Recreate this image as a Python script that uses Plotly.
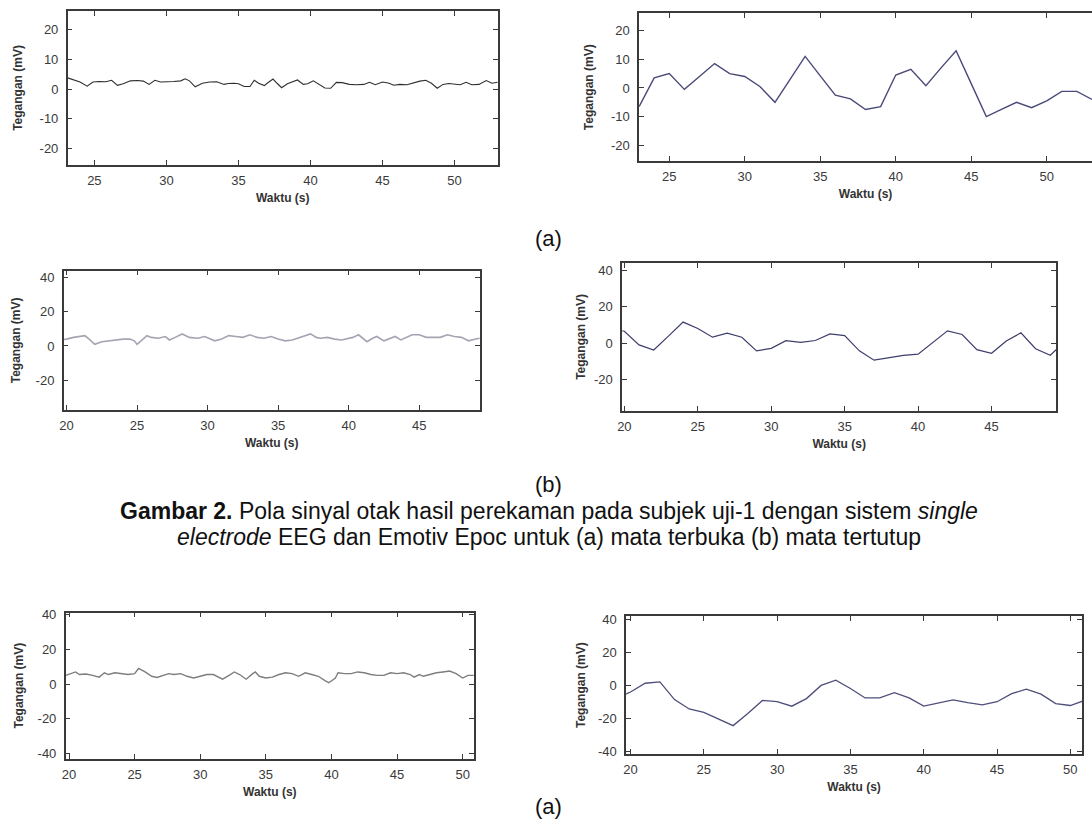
import plotly.graph_objects as go

# ---------------- data ----------------
# (a) top-left: single electrode EEG, eyes open
a1_t = [23.15, 23.5, 24.0, 24.5, 24.9, 25.3, 25.8, 26.2, 26.6, 27.0, 27.5, 28.0, 28.4, 28.8, 29.2, 29.6,
        30.0, 30.5, 31.0, 31.3, 31.6, 32.0, 32.5, 33.0, 33.5, 34.0, 34.3, 34.7, 35.0, 35.4, 35.8,
        36.1, 36.4, 36.8, 37.0, 37.4, 37.7, 38.0, 38.4, 38.8, 39.1, 39.5, 39.8, 40.2, 40.6, 41.0,
        41.4, 41.8, 42.2, 42.7, 43.2, 43.7, 44.1, 44.5, 45.0, 45.4, 45.8, 46.2, 46.7, 47.2, 47.6,
        48.0, 48.4, 48.8, 49.2, 49.6, 50.0, 50.4, 50.8, 51.2, 51.7, 52.2, 52.6, 53.0]
a1_v = [3.8, 3.3, 2.4, 1.0, 2.4, 2.6, 2.5, 3.0, 1.3, 1.8, 2.8, 2.9, 2.7, 1.6, 3.0, 2.4,
        2.6, 2.6, 2.8, 3.5, 2.8, 0.8, 2.0, 2.4, 2.5, 1.6, 1.9, 2.0, 1.8, 0.9, 0.9,
        3.0, 2.0, 1.2, 2.0, 3.4, 1.9, 0.5, 1.8, 2.6, 3.1, 1.6, 1.8, 2.8, 1.5, 0.4,
        0.3, 2.3, 2.2, 1.6, 1.5, 1.6, 2.3, 1.5, 2.4, 2.1, 1.3, 1.6, 1.5, 2.2, 2.7,
        3.0, 2.0, 0.3, 1.6, 1.9, 1.8, 1.5, 2.3, 1.5, 1.6, 2.9, 2.0, 2.3]

# (a) top-right: Emotiv Epoc, eyes open
a2_t = [23, 24, 25, 26, 27, 28, 29, 30, 31, 32, 33, 34, 35, 36, 37, 38, 39, 40, 41, 42, 43, 44, 45,
        46, 47, 48, 49, 50, 51, 52, 53]
a2_v = [-6.5, 3.5, 5.0, -0.5, 4.0, 8.5, 5.0, 4.0, 0.5, -5.0, 3.0, 11.0, 4.2, -2.5, -3.8, -7.5, -6.5,
        4.5, 6.5, 0.8, 7.0, 13.0, 1.5, -10.0, -7.5, -5.0, -6.9, -4.5, -1.2, -1.2, -4.0]

# (b) middle-left: single electrode EEG, eyes closed
b1_t = [19.8, 20.0, 20.5, 21.0, 21.3, 21.6, 22.0, 22.5, 23.0, 23.5, 24.0, 24.5, 24.8, 25.0, 25.3,
        25.7, 26.0, 26.5, 27.0, 27.3, 27.7, 28.2, 28.7, 29.3, 29.8, 30.2, 30.5, 31.0, 31.5, 32.0,
        32.5, 33.0, 33.5, 34.0, 34.5, 35.0, 35.5, 36.0, 36.5, 37.0, 37.3, 37.7, 38.0, 38.5, 39.0,
        39.5, 40.0, 40.3, 40.7, 41.0, 41.3, 41.7, 42.0, 42.5, 43.0, 43.3, 43.7, 44.0, 44.5, 45.0,
        45.5, 46.0, 46.5, 47.0, 47.5, 48.0, 48.5, 49.0, 49.3]
b1_v = [3.8, 4.0, 5.0, 5.5, 6.0, 4.0, 1.0, 2.5, 3.0, 3.5, 4.0, 4.0, 3.0, 1.0, 3.0,
        6.0, 5.0, 4.5, 5.5, 3.5, 5.0, 7.0, 5.0, 4.5, 5.5, 4.0, 3.0, 4.0, 6.0, 5.5,
        5.0, 6.5, 5.0, 4.5, 5.5, 4.0, 3.0, 3.5, 5.0, 6.5, 7.0, 5.0, 4.5, 5.0, 4.0,
        3.5, 4.5, 5.0, 6.5, 4.5, 2.5, 4.5, 5.5, 3.0, 4.5, 5.5, 3.5, 4.5, 6.5, 6.5,
        5.0, 5.0, 5.0, 6.5, 5.5, 5.0, 3.0, 4.0, 4.5]

# (b) middle-right: Emotiv Epoc, eyes closed
b2_t = [19, 20, 21, 22, 23, 24, 25, 26, 27, 28, 29, 30, 31, 32, 33, 34, 35, 36, 37, 38, 39, 40,
        41, 42, 43, 44, 45, 46, 47, 48, 49, 50]
b2_v = [8.0, 6.5, -1.0, -3.8, 3.8, 11.5, 8.0, 3.2, 5.4, 3.2, -4.3, -2.9, 1.3, 0.4, 1.4, 5.0, 4.1,
        -4.3, -9.4, -7.9, -6.8, -6.1, 0.2, 6.7, 4.7, -3.6, -5.6, 1.1, 5.6, -3.1, -6.7, 1.0]

# (a) bottom-left: single electrode EEG, subject 2
c1_t = [19.75, 20.2, 20.5, 20.8, 21.3, 21.8, 22.3, 22.7, 23.0, 23.5, 24.0, 24.5, 25.0, 25.3, 25.8,
        26.3, 26.7, 27.2, 27.6, 28.0, 28.5, 29.0, 29.5, 30.0, 30.5, 31.0, 31.7, 32.2, 32.6, 33.0,
        33.5, 34.0, 34.2, 34.5, 35.0, 35.5, 36.0, 36.5, 37.0, 37.5, 38.0, 38.5, 39.0, 39.5, 39.8,
        40.3, 40.5, 41.0, 41.5, 42.0, 42.5, 43.0, 43.5, 44.0, 44.5, 45.0, 45.5, 46.0, 46.3, 46.7,
        47.0, 47.5, 48.0, 48.5, 49.0, 49.5, 50.0, 50.4, 50.85]
c1_v = [5.0, 6.3, 7.0, 5.5, 5.8, 5.0, 4.0, 6.5, 5.5, 6.5, 6.0, 5.5, 6.0, 9.0, 7.0,
        4.5, 3.8, 5.0, 6.0, 5.5, 6.0, 4.5, 3.5, 4.5, 5.5, 5.5, 2.8, 5.0, 7.0, 5.5,
        2.8, 6.0, 7.0, 4.5, 3.5, 4.0, 5.5, 6.5, 6.0, 4.5, 6.5, 5.5, 4.5, 2.0, 0.8,
        3.5, 6.5, 6.0, 6.0, 7.0, 6.5, 5.5, 5.0, 5.0, 6.5, 6.0, 6.5, 5.5, 4.0, 5.5,
        4.5, 5.5, 6.5, 7.0, 7.5, 6.0, 3.5, 5.0, 5.0]

# (a) bottom-right: Emotiv Epoc, subject 2
c2_t = [19, 20, 21, 22, 23, 24, 25, 26, 27, 28, 29, 30, 31, 32, 33, 34, 35, 36, 37, 38, 39, 40,
        41, 42, 43, 44, 45, 46, 47, 48, 49, 50, 51]
c2_v = [-8.0, -4.0, 1.3, 2.1, -8.6, -14.3, -16.4, -20.2, -24.4, -17.1, -9.1, -9.9, -12.6, -8.0,
        0.0, 3.2, -1.9, -7.6, -7.6, -4.4, -7.6, -12.6, -10.5, -8.8, -10.5, -11.8, -9.9, -5.0,
        -2.3, -5.3, -11.0, -12.2, -9.0]

x_ticks_a = [25, 30, 35, 40, 45, 50]
x_ticks_bc = [20, 25, 30, 35, 40, 45, 50]
y_ticks_a = [-20, -10, 0, 10, 20]
y_ticks_bc = [-40, -20, 0, 20, 40]
y_labels_a = ["-20", "-10", "0", "10", "20"]
y_labels_bc = ["-40", "-20", "0", "20", "40"]

y_title = "Tegangan (mV)"
x_title = "Waktu (s)"

# ---------------- figure ----------------
W, H = 1092, 825
FONT = "Liberation Sans, Arial, sans-serif"
AX = "#3a3a3a"

def dx(a, b):
    return [a / W, min(b / W, 1.0)]

def dy(top, bottom):
    return [1 - bottom / H, 1 - top / H]

panels = [
    # t, v, color, width, xdom, ydom, xrange, yrange, xticks, yticks, ylabels, mirror_y, ytitle standoff
    (a1_t, a1_v, "#2e2e2e", 1.1, dx(63, 495), dy(6, 162), [23.15, 53.0], [-25.5, 26.3],
     x_ticks_a, y_ticks_a, y_labels_a, True, 14),
    (a2_t, a2_v, "#4a4a78", 1.4, dx(637, 1092), dy(8.5, 158), [23.0, 53.0], [-25.5, 26.0],
     x_ticks_a, y_ticks_a, y_labels_a, False, 15),
    (b1_t, b1_v, "#a4a4b2", 1.6, dx(59, 477), dy(269, 410), [19.8, 49.3], [-37.2, 43.7],
     x_ticks_bc, y_ticks_bc[1:], y_labels_bc[1:], True, 12),
    (b2_t, b2_v, "#3e3e6c", 1.2, dx(620, 1056), dy(261, 411), [19.85, 49.4], [-37.3, 44.0],
     x_ticks_bc, y_ticks_bc[1:], y_labels_bc[1:], True, 6),
    (c1_t, c1_v, "#7e7e7e", 1.4, dx(61, 471), dy(615, 763), [19.75, 50.85], [-43.0, 41.2],
     x_ticks_bc, y_ticks_bc, y_labels_bc, True, 11),
    (c2_t, c2_v, "#4e4e7a", 1.3, dx(624, 1082), dy(619, 758), [19.7, 50.8], [-41.5, 41.8],
     x_ticks_bc, y_ticks_bc, y_labels_bc, True, 10),
]

fig = go.Figure()
layout = dict(
    width=W, height=H,
    margin=dict(l=0, r=0, t=0, b=0),
    paper_bgcolor="white", plot_bgcolor="white",
    showlegend=False,
    font=dict(family=FONT, color="#333333", size=12),
)

for i, (t, v, col, lw, xd, yd, xr, yr, xt, yt, yl, mir, ys) in enumerate(panels):
    n = "" if i == 0 else str(i + 1)
    fig.add_trace(go.Scatter(x=t, y=v, mode="lines", line=dict(color=col, width=lw),
                             xaxis="x" + n, yaxis="y" + n, hoverinfo="skip"))
    layout["xaxis" + n] = dict(
        domain=xd, range=xr, anchor="y" + n, tickvals=xt,
        ticks="inside", ticklen=5, tickcolor=AX, tickwidth=1,
        showline=True, linecolor=AX, linewidth=1.5, mirror="allticks",
        showgrid=False, zeroline=False, ticklabelstandoff=3,
        tickfont=dict(size=13, color="#3a3a3a", family=FONT),
        title=dict(text="<b>" + x_title + "</b>", font=dict(size=12, color="#333333", family=FONT),
                   standoff=6),
    )
    layout["yaxis" + n] = dict(
        domain=yd, range=yr, anchor="x" + n, tickvals=yt, ticktext=yl,
        ticks="inside", ticklen=5, tickcolor=AX, tickwidth=1,
        showline=True, linecolor=AX, linewidth=1.5, mirror=("allticks" if mir else False),
        showgrid=False, zeroline=False, ticklabelstandoff=5,
        tickfont=dict(size=13, color="#3a3a3a", family=FONT),
        title=dict(text="<b>" + y_title + "</b>", font=dict(size=12, color="#333333", family=FONT),
                   standoff=ys),
    )

captions = [
    ("(a)", 236, 22),
    ("(b)", 485, 22),
    ("<b>Gambar 2.</b> Pola sinyal otak hasil perekaman pada subjek uji-1 dengan sistem <i>single</i>", 512, 23),
    ("<i>electrode</i> EEG dan Emotiv Epoc untuk (a) mata terbuka (b) mata tertutup", 539, 23),
    ("(a)", 811, 22),
]
layout["annotations"] = [
    dict(text=txt, x=0.5, y=1 - py / H, xref="paper", yref="paper", xanchor="center",
         yanchor="middle", showarrow=False, font=dict(family=FONT, size=fs, color="#111111"))
    for txt, py, fs in captions
]

fig.update_layout(**layout)
fig.write_html("out.html")
